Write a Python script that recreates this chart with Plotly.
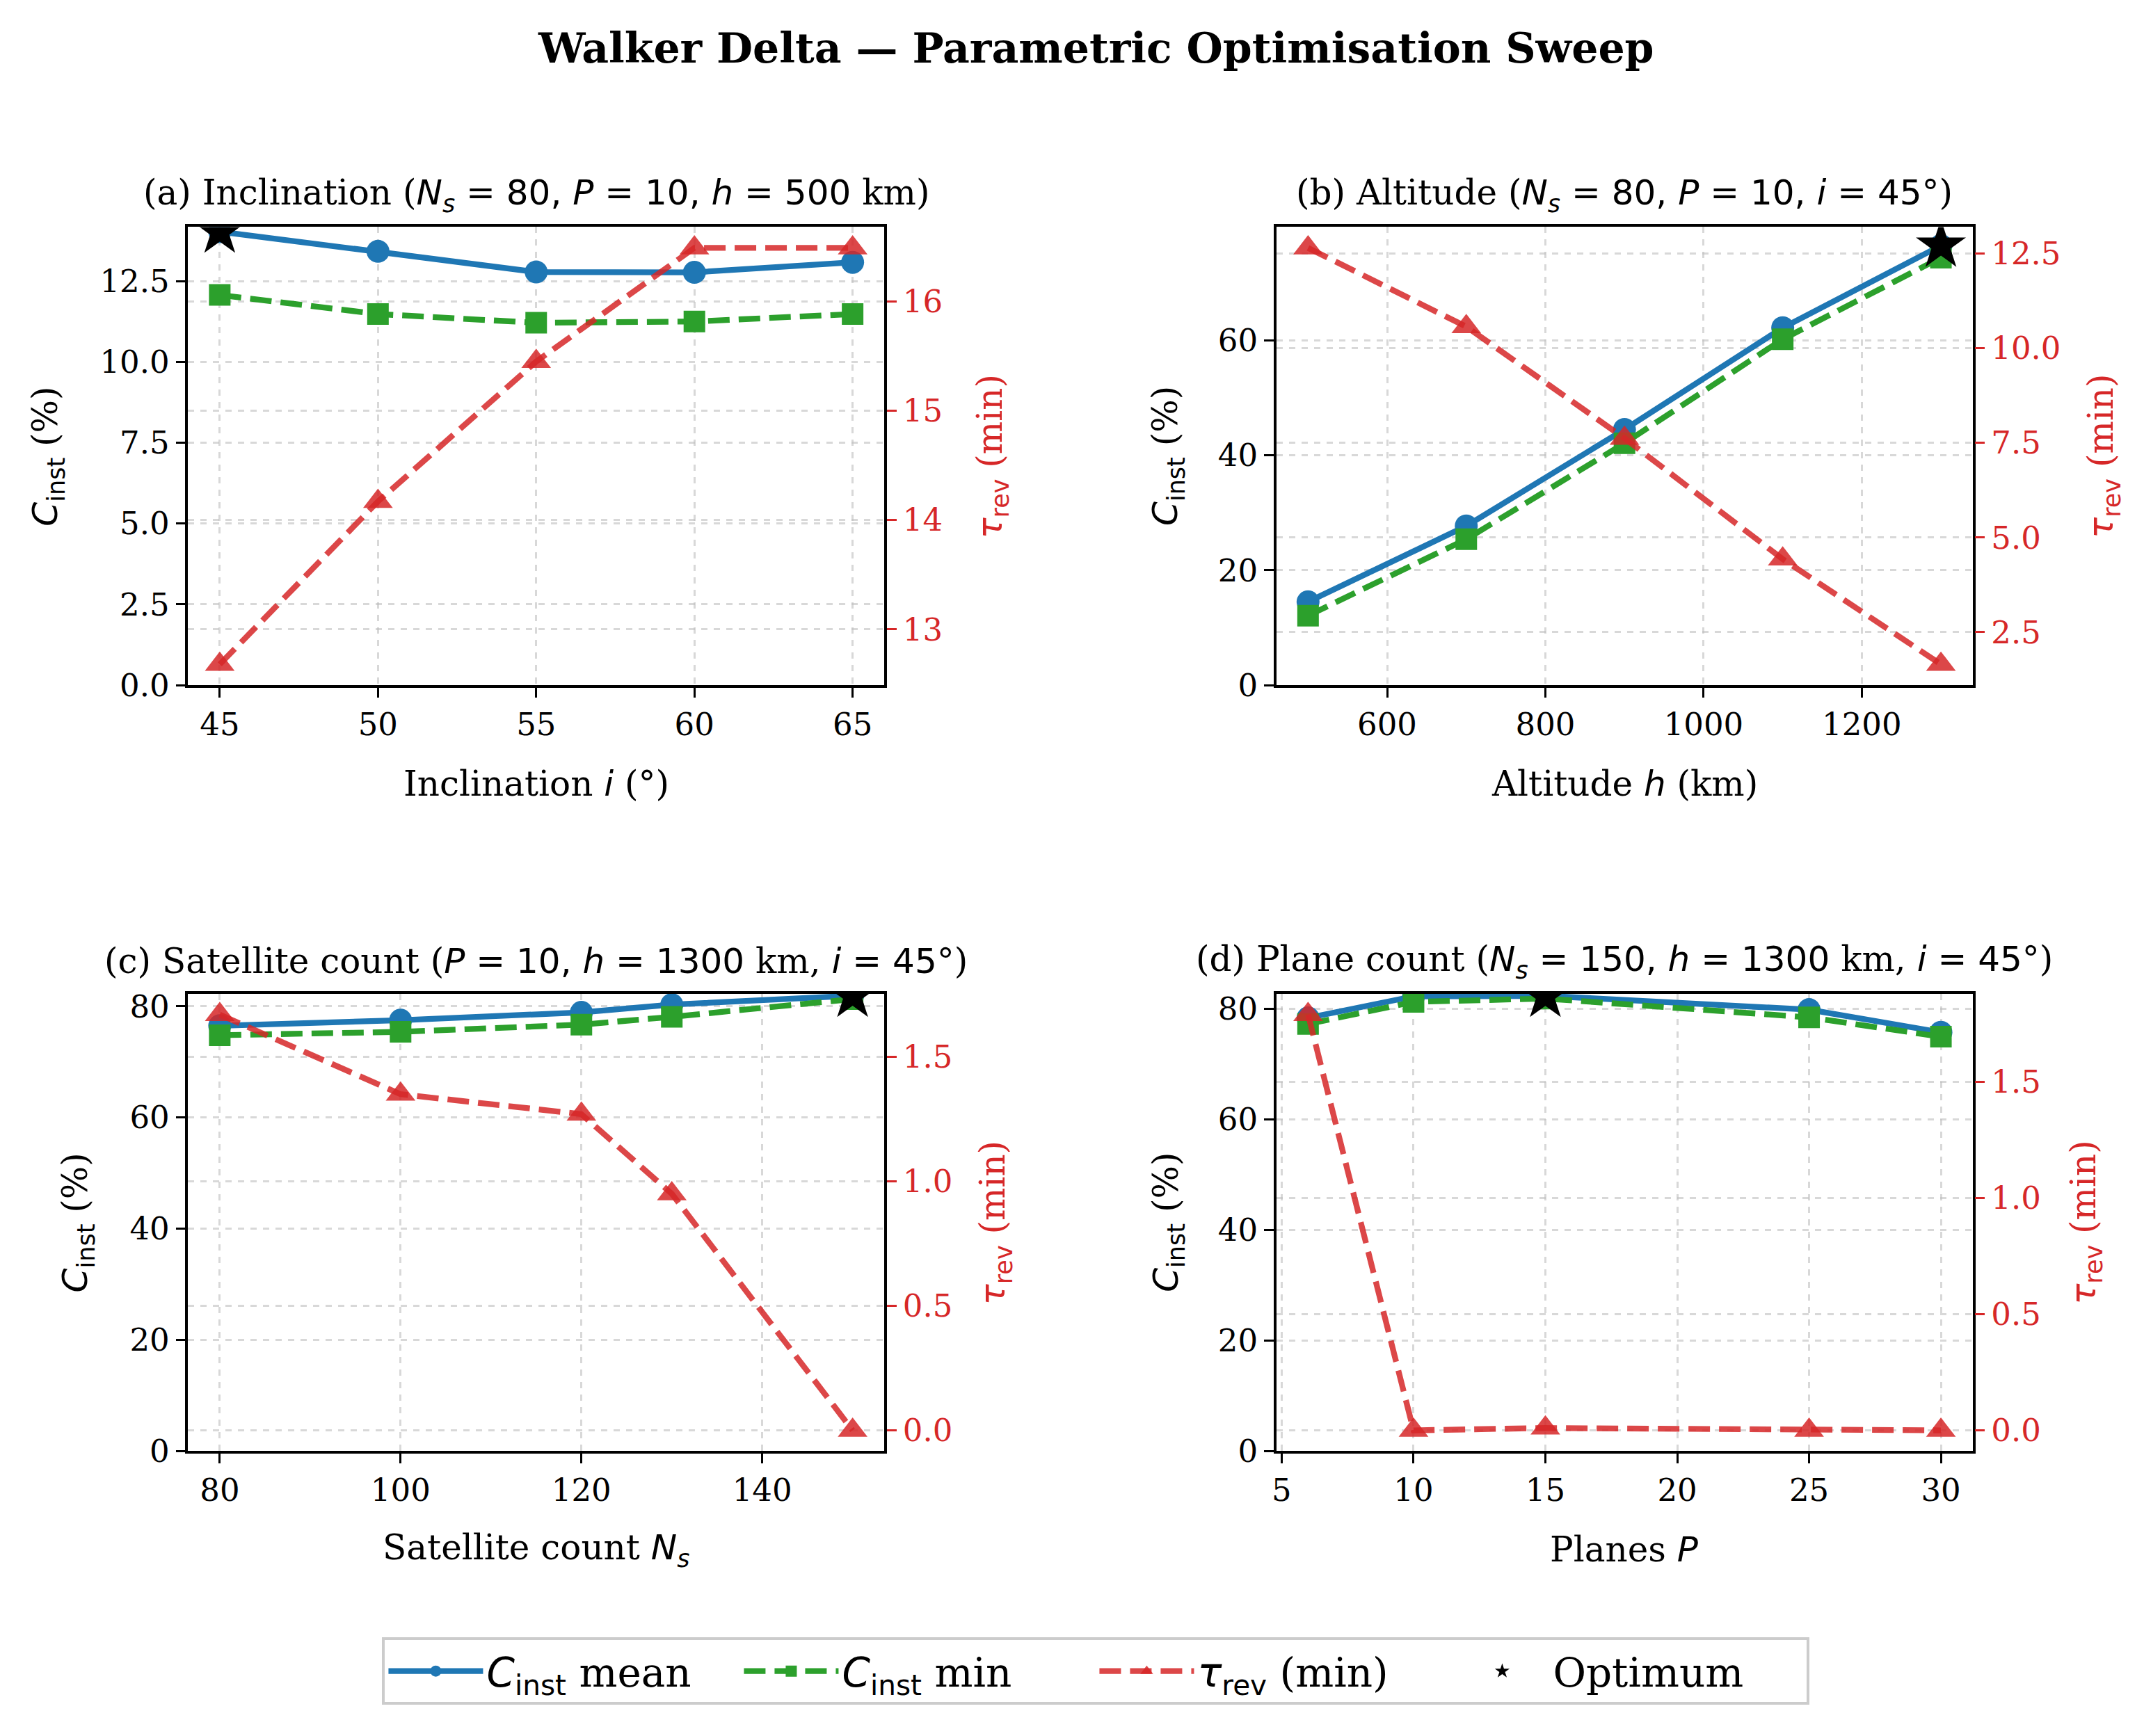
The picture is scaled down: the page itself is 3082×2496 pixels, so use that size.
import plotly.graph_objects as go

# ---------------- data ----------------
a_x = [45, 50, 55, 60, 65]
a_mean = [14.03, 13.42, 12.78, 12.77, 13.08]
a_min = [12.07, 11.48, 11.21, 11.25, 11.48]
a_tau = [12.68, 14.17, 15.45, 16.49, 16.49]

b_x = [500, 700, 900, 1100, 1300]
b_mean = [14.5, 27.7, 44.5, 62.2, 76.5]
b_min = [12.1, 25.4, 42.1, 60.2, 74.4]
b_tau = [12.65, 10.57, 7.62, 4.43, 1.65]

c_x = [80, 100, 120, 130, 150]
c_mean = [76.5, 77.5, 78.9, 80.3, 81.9]
c_min = [74.8, 75.4, 76.7, 78.1, 81.3]
c_tau = [1.67, 1.35, 1.27, 0.95, 0.0]

d_x = [6, 10, 15, 25, 30]
d_mean = [78.3, 82.2, 82.3, 79.8, 75.7]
d_min = [77.2, 81.2, 81.8, 78.4, 74.9]
d_tau = [1.79, 0.0, 0.01, 0.0, 0.0]

a_xticks = [45, 50, 55, 60, 65]
b_xticks = [600, 800, 1000, 1200]
c_xticks = [80, 100, 120, 140]
d_xticks = [5, 10, 15, 20, 25, 30]

a_yticks = [0, 2.5, 5.0, 7.5, 10.0, 12.5]
b_yticks = [0, 20, 40, 60]
c_yticks = [0, 20, 40, 60, 80]
d_yticks = [0, 20, 40, 60, 80]

a_rticks = [13, 14, 15, 16]
b_rticks = [2.5, 5.0, 7.5, 10.0, 12.5]
c_rticks = [0.0, 0.5, 1.0, 1.5]
d_rticks = [0.0, 0.5, 1.0, 1.5]

# ---------------- style ----------------
W, H = 3082, 2496
BLUE = "#1f77b4"
GREEN = "#2ca02c"
RED = "#d62728"
RED_A = "rgba(214,39,40,0.85)"
SERIF = "DejaVu Serif"
SANS = "DejaVu Sans"
TICK_FS = 45
LAB_FS = 50
GRID = "rgba(190,190,190,0.6)"
LW = 8.3
DASH = "31px,13px"


def m(s):
    return "<span style='font-family:%s'>%s</span>" % (SANS, s)


C_INST = m("<i>C</i><sub>inst</sub>")
TAU = m("<i>τ</i><sub>rev</sub>")

panels = [
    dict(x=a_x, mean=a_mean, mn=a_min, tau=a_tau, xt=a_xticks, yt=a_yticks, rt=a_rticks,
         yfmt=".1f", rfmt="d",
         title="(a) Inclination (" + m("<i>N<sub>s</sub></i> = 80, <i>P</i> = 10, <i>h</i> = 500") + " km)",
         xlabel="Inclination " + m("<i>i</i>") + " (°)",
         dom_x=(264, 1267), dom_y=(323, 991), ylx=62, rlx=1431),
    dict(x=b_x, mean=b_mean, mn=b_min, tau=b_tau, xt=b_xticks, yt=b_yticks, rt=b_rticks,
         yfmt="d", rfmt=".1f",
         title="(b) Altitude (" + m("<i>N<sub>s</sub></i> = 80, <i>P</i> = 10, <i>i</i> = 45°") + ")",
         xlabel="Altitude " + m("<i>h</i>") + " (km)",
         dom_x=(1832, 2835), dom_y=(323, 991), ylx=1676, rlx=3032),
    dict(x=c_x, mean=c_mean, mn=c_min, tau=c_tau, xt=c_xticks, yt=c_yticks, rt=c_rticks,
         yfmt="d", rfmt=".1f",
         title="(c) Satellite count (" + m("<i>P</i> = 10, <i>h</i> = 1300") + " km, " + m("<i>i</i> = 45°") + ")",
         xlabel="Satellite count " + m("<i>N<sub>s</sub></i>"),
         dom_x=(264, 1267), dom_y=(1441, 2108), ylx=105, rlx=1435),
    dict(x=d_x, mean=d_mean, mn=d_min, tau=d_tau, xt=d_xticks, yt=d_yticks, rt=d_rticks,
         yfmt="d", rfmt=".1f",
         title="(d) Plane count (" + m("<i>N<sub>s</sub></i> = 150, <i>h</i> = 1300") + " km, " + m("<i>i</i> = 45°") + ")",
         xlabel="Planes " + m("<i>P</i>"),
         dom_x=(1832, 2835), dom_y=(1441, 2108), ylx=1676, rlx=3006),
]


def auto_range(vals, margin=0.05):
    lo, hi = min(vals), max(vals)
    s = hi - lo
    return [lo - margin * s, hi + margin * s]


fig = go.Figure()
annotations = []
layout = {}

for i, p in enumerate(panels):
    xn = "" if i == 0 else str(i + 1)
    ylid = 2 * i + 1
    yrid = 2 * i + 2
    yl = "" if ylid == 1 else str(ylid)
    yr = str(yrid)
    xref = "x" + xn
    ylref = "y" + yl
    yrref = "y" + yr
    show = i == 0

    k = max(range(len(p["mean"])), key=lambda j: p["mean"][j])

    fig.add_trace(go.Scatter(x=p["x"], y=p["mean"], mode="lines+markers", xaxis=xref, yaxis=ylref,
                             line=dict(color=BLUE, width=LW), marker=dict(symbol="circle", size=33, color=BLUE),
                             name=C_INST + " mean", showlegend=show, legendrank=1))
    fig.add_trace(go.Scatter(x=p["x"], y=p["mn"], mode="lines+markers", xaxis=xref, yaxis=ylref,
                             line=dict(color=GREEN, width=LW, dash=DASH),
                             marker=dict(symbol="square", size=31, color=GREEN),
                             name=C_INST + " min", showlegend=show, legendrank=2))
    fig.add_trace(go.Scatter(x=[p["x"][k]], y=[p["mean"][k]], mode="markers", xaxis=xref, yaxis=ylref,
                             marker=dict(symbol="star", size=54, color="black"),
                             name="Optimum", showlegend=show, legendrank=4))
    fig.add_trace(go.Scatter(x=p["x"], y=p["tau"], mode="lines+markers", xaxis=xref, yaxis=yrref,
                             line=dict(color=RED_A, width=LW, dash=DASH),
                             marker=dict(symbol="triangle-up", size=37, color=RED_A),
                             name=TAU + " (min)", showlegend=show, legendrank=3))

    x0, x1 = p["dom_x"]
    ytop, ybot = p["dom_y"]
    dx = [x0 / W, x1 / W]
    dy = [1 - ybot / H, 1 - ytop / H]

    xr = auto_range(p["x"])
    ylr = auto_range(p["mean"] + p["mn"])
    ylr[0] = 0
    yrr = auto_range(p["tau"])

    common = dict(showline=True, linecolor="black", linewidth=3.5, ticks="outside", ticklen=14,
                  tickwidth=3.3, showgrid=True, gridcolor=GRID, griddash="dash", gridwidth=3,
                  zeroline=False, tickfont=dict(family=SERIF, size=TICK_FS, color="black"))

    layout["xaxis" + xn] = dict(common, domain=dx, range=xr, anchor=ylref, tickvals=p["xt"],
                                mirror=True, tickcolor="black")
    layout["yaxis" + yl] = dict(common, domain=dy, range=ylr, anchor=xref, tickvals=p["yt"],
                                tickformat=p["yfmt"], side="left", tickcolor="black")
    layout["yaxis" + yr] = dict(common, domain=dy, range=yrr, anchor=xref, overlaying=ylref, side="right",
                                tickvals=p["rt"], tickformat=p["rfmt"], tickcolor=RED,
                                tickfont=dict(family=SERIF, size=TICK_FS, color=RED))

    cx = (x0 + x1) / 2 / W
    cy = 1 - (ytop + ybot) / 2 / H
    annotations.append(dict(text=p["title"], x=cx, y=1 - (ytop - 47) / H, xref="paper", yref="paper",
                            showarrow=False, xanchor="center", yanchor="middle",
                            font=dict(family=SERIF, size=LAB_FS, color="black")))
    annotations.append(dict(text=p["xlabel"], x=cx, y=1 - (ybot + 144) / H, xref="paper", yref="paper",
                            showarrow=False, xanchor="center", yanchor="middle",
                            font=dict(family=SERIF, size=LAB_FS, color="black")))
    annotations.append(dict(text=C_INST + " (%)", x=p["ylx"] / W, y=cy, xref="paper", yref="paper",
                            showarrow=False, xanchor="center", yanchor="middle", textangle=-90,
                            font=dict(family=SERIF, size=LAB_FS, color="black")))
    annotations.append(dict(text=TAU + " (min)", x=(p["rlx"] - 8) / W, y=cy, xref="paper", yref="paper",
                            showarrow=False, xanchor="center", yanchor="middle", textangle=-90,
                            font=dict(family=SERIF, size=LAB_FS, color=RED)))

annotations.append(dict(text="<b>Walker Delta — Parametric Optimisation Sweep</b>", x=1572 / W, y=1 - 62 / H,
                        xref="paper", yref="paper", showarrow=False, xanchor="center", yanchor="middle",
                        font=dict(family=SERIF, size=60, color="black")))

fig.update_layout(
    width=W, height=H, margin=dict(l=0, r=0, t=0, b=0),
    paper_bgcolor="white", plot_bgcolor="white",
    annotations=annotations,
    legend=dict(orientation="h", x=1572 / W, y=1 - 2429 / H, xanchor="center", yanchor="middle",
                font=dict(family=SERIF, size=58, color="black"), bordercolor="#cccccc", borderwidth=4,
                bgcolor="white", itemwidth=136, entrywidth=360, entrywidthmode="pixels",
                traceorder="normal"),
    **layout,
)

fig.write_html("out.html")
